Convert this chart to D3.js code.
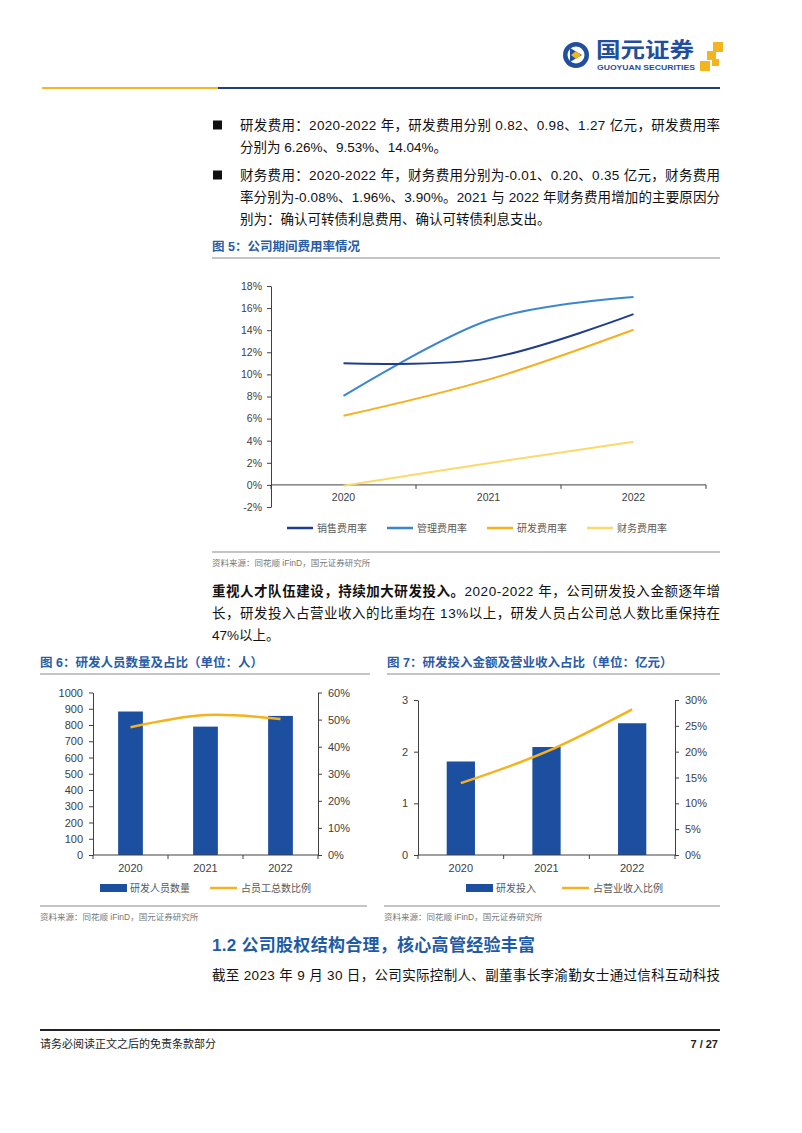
<!DOCTYPE html>
<html>
<head>
<meta charset="utf-8">
<script src="https://cdn.jsdelivr.net/npm/d3@7"></script>
<style>
  body { margin: 0; background: #fff; }
  svg { display: block; }
  text { font-family: "Liberation Sans", Arial, "Noto Sans CJK SC", sans-serif; }
</style>
</head>
<body>
<div id="page"></div>
<script>
"use strict"

/* ---------- data ---------- */
const years = ["2020", "2021", "2022"];

// 图5 公司期间费用率 (%)
const rateNames = ["销售费用率", "管理费用率", "研发费用率", "财务费用率"];
const salesRate = [11.0, 11.45, 15.45];
const mgmtRate = [8.05, 14.9, 17.0];
const rdRate = [6.26, 9.53, 14.04];
const finRate = [-0.08, 1.96, 3.90];
const rateTicks = [-2, 0, 2, 4, 6, 8, 10, 12, 14, 16, 18];

// 图6 研发人员数量及占比
const staffNames = ["研发人员数量", "占员工总数比例"];
const rdStaff = [883, 790, 856];
const rdStaffRatio = [47.2, 51.7, 50.2];
const staffTicks = [0, 100, 200, 300, 400, 500, 600, 700, 800, 900, 1000];
const staffRatioTicks = [0, 10, 20, 30, 40, 50, 60];

// 图7 研发投入金额及营业收入占比
const investNames = ["研发投入", "占营业收入比例"];
const rdInvest = [1.81, 2.09, 2.55];
const rdInvestRatio = [13.9, 20.0, 28.2];
const investTicks = [0, 1, 2, 3];
const investRatioTicks = [0, 5, 10, 15, 20, 25, 30];

/* ---------- page ---------- */
const W = 802, H = 1133;
const blue = "#2a5ba6";
const barBlue = "#1d4fa0";
const orange = "#f5b21c";
const axisCol = "#404040";
const labelCol = "#404040";

let svg = d3.select("#page").append("svg")
    .attr("width", W)
    .attr("height", H);

svg.append("rect").attr("width", W).attr("height", H).attr("fill", "#fff");

/* Header logo */
let logo = svg.append("g");
logo.append("circle")
    .attr("cx", 576).attr("cy", 55).attr("r", 13)
    .attr("fill", "#1f4f9e");
logo.append("circle")
    .attr("cx", 576).attr("cy", 55).attr("r", 8.5)
    .attr("fill", "#fff");
logo.append("path")
    .attr("d", "M570,48 L582,55 L570,62 Z")
    .attr("fill", "#1f4f9e");
logo.append("path")
    .attr("d", "M576,51 L581,55 L576,59 L571,55 Z")
    .attr("fill", "#f2b51d");
logo.append("text")
    .attr("x", 596).attr("y", 49)
    .attr("dominant-baseline", "central")
    .attr("font-size", 21).attr("font-weight", "bold")
    .attr("fill", "#1f4f9e")
    .attr("textLength", 98).attr("lengthAdjust", "spacingAndGlyphs")
    .text("国元证券");
logo.append("text")
    .attr("x", 597).attr("y", 67.5)
    .attr("dominant-baseline", "central")
    .attr("font-size", 7.5).attr("font-weight", "bold")
    .attr("fill", "#1f4f9e")
    .attr("textLength", 98).attr("lengthAdjust", "spacingAndGlyphs")
    .text("GUOYUAN SECURITIES");
[[713, 42, 10], [707, 51, 9], [700, 61, 10], [712, 59, 7]].forEach(s => {
    logo.append("rect")
        .attr("x", s[0]).attr("y", s[1])
        .attr("width", s[2]).attr("height", s[2])
        .attr("fill", "#f2b51d");
});

/* Header rule */
svg.append("line").attr("x1", 42).attr("x2", 218).attr("y1", 88).attr("y2", 88)
    .attr("stroke", "#f5b81e").attr("stroke-width", 2);
svg.append("line").attr("x1", 218).attr("x2", 720).attr("y1", 88).attr("y2", 88)
    .attr("stroke", "#1f3f80").attr("stroke-width", 2);

/* helper for body text lines */
function bodyLine(x, y, str, len, size, opts) {
    let t = svg.append("text")
        .attr("x", x).attr("y", y)
        .attr("dominant-baseline", "central")
        .attr("font-size", size || 13.5)
        .attr("fill", "#111");
    if (len) t.attr("textLength", len).attr("lengthAdjust", "spacing");
    if (opts && opts.bold) {
        t.append("tspan").attr("font-weight", "bold").text(opts.bold);
    }
    t.append("tspan").text(str);
    return t;
}

/* Bullets */
[125, 175].forEach(y => {
    svg.append("rect").attr("x", 213).attr("y", y - 4.5)
        .attr("width", 9).attr("height", 9).attr("fill", "#111");
});
bodyLine(240, 125, "研发费用：2020-2022 年，研发费用分别 0.82、0.98、1.27 亿元，研发费用率", 480);
bodyLine(240, 147, "分别为 6.26%、9.53%、14.04%。");
bodyLine(240, 175, "财务费用：2020-2022 年，财务费用分别为-0.01、0.20、0.35 亿元，财务费用", 480);
bodyLine(240, 197, "率分别为-0.08%、1.96%、3.90%。2021 与 2022 年财务费用增加的主要原因分", 480);
bodyLine(240, 219, "别为：确认可转债利息费用、确认可转债利息支出。");

/* figure title + rules */
function figTitle(x, y, x2, str) {
    svg.append("text")
        .attr("x", x).attr("y", y)
        .attr("dominant-baseline", "central")
        .attr("font-size", 12.5).attr("font-weight", "bold")
        .attr("fill", blue)
        .text(str);
    svg.append("line").attr("x1", x).attr("x2", x2)
        .attr("y1", y + 11).attr("y2", y + 11)
        .attr("stroke", "#8a8a8a").attr("stroke-width", 1.2);
}
function sourceNote(x, y, x2) {
    svg.append("line").attr("x1", x).attr("x2", x2)
        .attr("y1", y).attr("y2", y)
        .attr("stroke", "#8a8a8a").attr("stroke-width", 1.2);
    svg.append("text")
        .attr("x", x).attr("y", y + 11)
        .attr("dominant-baseline", "central")
        .attr("font-size", 8.5).attr("fill", "#777")
        .text("资料来源：同花顺 iFinD，国元证券研究所");
}

/* ===== 图5 ===== */
figTitle(212, 247, 720, "图 5：公司期间费用率情况");

let c5 = svg.append("g");
let x5 = d3.scaleBand().domain(years).range([271, 706]);
let y5 = d3.scaleLinear().domain([-2, 18]).range([507, 286]);

let yAxis5 = c5.append("g")
    .attr("transform", "translate(271,0)")
    .call(d3.axisLeft(y5).tickValues(rateTicks).tickSize(4).tickSizeOuter(0)
        .tickFormat(d => d + "%"));
yAxis5.selectAll("text").attr("font-size", 10.5).attr("fill", labelCol).attr("dx", -2);
yAxis5.selectAll("line, path").attr("stroke", axisCol);

// x axis on the zero line
c5.append("line")
    .attr("x1", x5.range()[0]).attr("x2", x5.range()[1])
    .attr("y1", y5(0)).attr("y2", y5(0))
    .attr("stroke", axisCol);
d3.range(years.length + 1).forEach(i => {
    let xx = x5.range()[0] + i * x5.step();
    c5.append("line").attr("x1", xx).attr("x2", xx)
        .attr("y1", y5(0)).attr("y2", y5(0) + 4).attr("stroke", axisCol);
});
c5.selectAll(".xl5").data(years).enter().append("text")
    .attr("x", d => x5(d) + x5.bandwidth() / 2)
    .attr("y", y5(0) + 12)
    .attr("text-anchor", "middle").attr("dominant-baseline", "central")
    .attr("font-size", 10.5).attr("fill", labelCol)
    .text(d => d);

const rateSeries = [salesRate, mgmtRate, rdRate, finRate];
const rateColors = ["#1f3d8f", "#3b86cf", "#f4b01d", "#fbd96b"];
let line5 = d3.line()
    .x((d, i) => x5(years[i]) + x5.bandwidth() / 2)
    .y(d => y5(d))
    .curve(d3.curveCardinal.tension(0));
[3, 2, 1, 0].forEach(k => {
    c5.append("path")
        .attr("d", line5(rateSeries[k]))
        .attr("fill", "none")
        .attr("stroke", rateColors[k])
        .attr("stroke-width", 2);
});

// legend 5
rateNames.forEach((n, i) => {
    let lx = 287 + i * 100;
    c5.append("line").attr("x1", lx).attr("x2", lx + 26)
        .attr("y1", 528).attr("y2", 528)
        .attr("stroke", rateColors[i]).attr("stroke-width", 2.5);
    c5.append("text").attr("x", lx + 30).attr("y", 528)
        .attr("dominant-baseline", "central")
        .attr("font-size", 10).attr("fill", "#595959")
        .text(n);
});
sourceNote(212, 552, 720);

/* Paragraph */
bodyLine(212, 591, "2020-2022 年，公司研发投入金额逐年增", 508, 13.5, { bold: "重视人才队伍建设，持续加大研发投入。" });
bodyLine(212, 613, "长，研发投入占营业收入的比重均在 13%以上，研发人员占公司总人数比重保持在", 508);
bodyLine(212, 635, "47%以上。");

/* ===== combo chart helper ===== */
function comboChart(cfg) {
    let g = svg.append("g");
    let x = d3.scaleBand().domain(years).range([cfg.left, cfg.right]);
    let yL = d3.scaleLinear().domain(d3.extent(cfg.leftTicks)).range([cfg.bottom, cfg.top]);
    let yR = d3.scaleLinear().domain(d3.extent(cfg.rightTicks)).range([cfg.bottom, cfg.top]);

    let la = g.append("g").attr("transform", `translate(${cfg.left},0)`)
        .call(d3.axisLeft(yL).tickValues(cfg.leftTicks).tickSize(4).tickSizeOuter(0)
            .tickFormat(d3.format("d")));
    let ra = g.append("g").attr("transform", `translate(${cfg.right},0)`)
        .call(d3.axisRight(yR).tickValues(cfg.rightTicks).tickSize(4).tickSizeOuter(0)
            .tickFormat(d => d + "%"));
    [la, ra].forEach(a => {
        a.selectAll("text").attr("font-size", 11).attr("fill", labelCol);
        a.selectAll("line, path").attr("stroke", axisCol);
    });
    la.selectAll("text").attr("dx", -3);
    ra.selectAll("text").attr("dx", 3);

    let bw = x.bandwidth() * 0.33;
    g.selectAll(".bar").data(cfg.bars).enter().append("rect")
        .attr("x", (d, i) => x(years[i]) + (x.bandwidth() - bw) / 2)
        .attr("y", d => yL(d))
        .attr("width", bw)
        .attr("height", d => cfg.bottom - yL(d))
        .attr("fill", barBlue);

    g.append("line").attr("x1", cfg.left).attr("x2", cfg.right)
        .attr("y1", cfg.bottom).attr("y2", cfg.bottom).attr("stroke", axisCol);
    d3.range(years.length + 1).forEach(i => {
        let xx = cfg.left + i * x.step();
        g.append("line").attr("x1", xx).attr("x2", xx)
            .attr("y1", cfg.bottom).attr("y2", cfg.bottom + 4).attr("stroke", axisCol);
    });
    g.selectAll(".xl").data(years).enter().append("text")
        .attr("x", d => x(d) + x.bandwidth() / 2)
        .attr("y", cfg.bottom + 13)
        .attr("text-anchor", "middle").attr("dominant-baseline", "central")
        .attr("font-size", 11).attr("fill", labelCol)
        .text(d => d);

    let ln = d3.line()
        .x((d, i) => x(years[i]) + x.bandwidth() / 2)
        .y(d => yR(d))
        .curve(d3.curveCardinal.tension(0));
    g.append("path").attr("d", ln(cfg.line))
        .attr("fill", "none").attr("stroke", orange).attr("stroke-width", 2.5);

    // legend
    let ly = cfg.bottom + 33;
    g.append("rect").attr("x", cfg.legBar).attr("y", ly - 4)
        .attr("width", 27).attr("height", 8).attr("fill", barBlue);
    g.append("text").attr("x", cfg.legBar + 30).attr("y", ly)
        .attr("dominant-baseline", "central")
        .attr("font-size", 10).attr("fill", "#595959")
        .text(cfg.names[0]);
    g.append("line").attr("x1", cfg.legLine).attr("x2", cfg.legLine + 27)
        .attr("y1", ly).attr("y2", ly)
        .attr("stroke", orange).attr("stroke-width", 2.5);
    g.append("text").attr("x", cfg.legLine + 31).attr("y", ly)
        .attr("dominant-baseline", "central")
        .attr("font-size", 10).attr("fill", "#595959")
        .text(cfg.names[1]);
}

/* ===== 图6 ===== */
figTitle(40, 663, 370, "图 6：研发人员数量及占比（单位：人）");
comboChart({
    left: 93, right: 318, top: 692.5, bottom: 855,
    leftTicks: staffTicks, rightTicks: staffRatioTicks,
    bars: rdStaff, line: rdStaffRatio, names: staffNames,
    legBar: 100, legLine: 210
});
sourceNote(40, 906, 367);

/* ===== 图7 ===== */
figTitle(387, 663, 720, "图 7：研发投入金额及营业收入占比（单位：亿元）");
comboChart({
    left: 418, right: 675, top: 700, bottom: 855,
    leftTicks: investTicks, rightTicks: investRatioTicks,
    bars: rdInvest, line: rdInvestRatio, names: investNames,
    legBar: 466, legLine: 562
});
sourceNote(384, 906, 720);

/* Section heading + paragraph */
svg.append("text")
    .attr("x", 212).attr("y", 945)
    .attr("dominant-baseline", "central")
    .attr("font-size", 17).attr("font-weight", "bold")
    .attr("fill", "#1f5aa6")
    .attr("textLength", 323).attr("lengthAdjust", "spacing")
    .text("1.2  公司股权结构合理，核心高管经验丰富");
bodyLine(212, 975, "截至 2023 年 9 月 30 日，公司实际控制人、副董事长李渝勤女士通过信科互动科技", 508);

/* Footer */
svg.append("line").attr("x1", 40).attr("x2", 720).attr("y1", 1030).attr("y2", 1030)
    .attr("stroke", "#222").attr("stroke-width", 2);
svg.append("text")
    .attr("x", 40).attr("y", 1044)
    .attr("dominant-baseline", "central")
    .attr("font-size", 11).attr("fill", "#222")
    .text("请务必阅读正文之后的免责条款部分");
svg.append("text")
    .attr("x", 718).attr("y", 1044)
    .attr("text-anchor", "end").attr("dominant-baseline", "central")
    .attr("font-size", 11).attr("font-weight", "bold").attr("fill", "#222")
    .text("7 / 27");
</script>
</body>
</html>
